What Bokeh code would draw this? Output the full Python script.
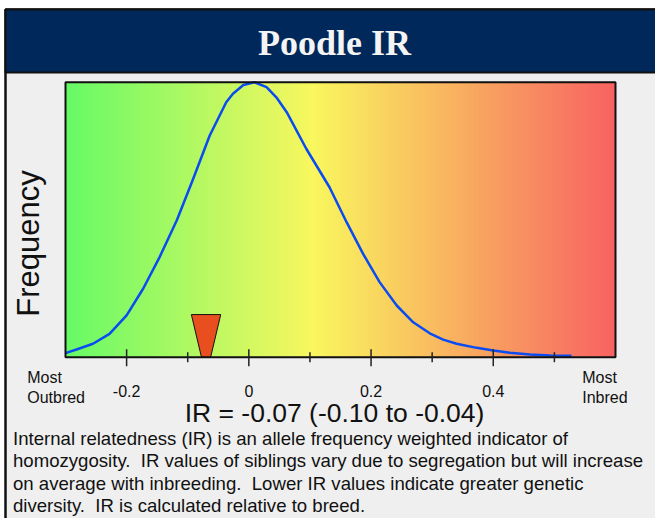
import numpy as np
from bokeh.plotting import figure
from bokeh.models import Range1d
from bokeh.core.properties import value
from bokeh.embed import file_html
from bokeh.resources import INLINE

# ---------------- data ----------------
title_text = "Poodle IR"
y_label = "Frequency"

# breed IR distribution (peak scaled to 1)
curve_x = [-0.300, -0.282, -0.255, -0.228, -0.200, -0.173, -0.146, -0.118, -0.091,
           -0.064, -0.037, -0.026, -0.009, 0.009, 0.029, 0.045, 0.062, 0.094,
           0.132, 0.160, 0.187, 0.214, 0.242, 0.269, 0.296, 0.318, 0.340, 0.373,
           0.400, 0.427, 0.460, 0.493, 0.528]
curve_y = [0.015, 0.028, 0.049, 0.085, 0.152, 0.249, 0.364, 0.497, 0.649,
           0.806, 0.927, 0.958, 0.990, 1.000, 0.982, 0.945, 0.891, 0.758,
           0.618, 0.491, 0.376, 0.273, 0.188, 0.127, 0.087, 0.064, 0.049, 0.034,
           0.024, 0.016, 0.010, 0.006, 0.005]

ir_value = -0.07
ir_low = -0.10
ir_high = -0.04

x_min, x_max = -0.3, 0.6
y_min, y_max = 0.0, 1.0
tick_values = [-0.2, 0.0, 0.2, 0.4]
tick_labels = ["-0.2", "0", "0.2", "0.4"]
minor_tick_values = [-0.1, 0.1, 0.3, 0.5]

left_end_label = ["Most", "Outbred"]
right_end_label = ["Most", "Inbred"]

NB2 = "\u00a0 "  # double space after a full stop (kept visible in SVG)
note_lines = [
    "Internal relatedness (IR) is an allele frequency weighted indicator of",
    "homozygosity." + NB2 + "IR values of siblings vary due to segregation but will increase",
    "on average with inbreeding." + NB2 + "Lower IR values indicate greater genetic",
    "diversity." + NB2 + "IR is calculated relative to breed.",
]

# ---------------- layout / styles ----------------
SANS = "Liberation Sans"
SERIF = "Liberation Serif"
NAVY = "#00285A"
PANEL = "#EFEFEF"
INK = "#111111"
W, H = 655, 518
PLOT_L, PLOT_R, PLOT_T, PLOT_B = 65.0, 615.0, 81.7, 356.7   # chart area in canvas pixels
BOX_L, BOX_T, HEAD_B = 5, 9, 72
BASE_SHIFT = 0.31   # text anchor sits this many em above the drawn baseline

# data ranges chosen so that [x_min, x_max] x [y_min, y_max] fills the chart area
kx = (x_max - x_min) / (PLOT_R - PLOT_L)
ky = (y_max - y_min) / (PLOT_B - PLOT_T)
x_range = Range1d(x_min - PLOT_L * kx, x_max + (W - PLOT_R) * kx)
y_range = Range1d(y_min - (H - PLOT_B) * ky, y_max + PLOT_T * ky)

p = figure(width=W, height=H, x_range=x_range, y_range=y_range,
           x_axis_location=None, y_axis_location=None, toolbar_location=None,
           output_backend="svg", min_border=0)
p.extra_x_ranges = {"px": Range1d(0, W)}
p.extra_y_ranges = {"px": Range1d(H, 0)}
p.outline_line_color = None
p.background_fill_color = "white"
p.border_fill_color = "white"
p.grid.visible = False

PX = dict(x_range_name="px", y_range_name="px")

# panel + header band
p.quad(left=[BOX_L], right=[W + 10], top=[BOX_T], bottom=[H + 10],
       fill_color=PANEL, line_color=INK, line_width=2.5, **PX)
p.quad(left=[BOX_L], right=[W + 10], top=[BOX_T], bottom=[HEAD_B],
       fill_color=NAVY, line_color=INK, line_width=2, **PX)

# gradient background (green -> yellow -> red)
n = 600
t = np.linspace(0, 1, n)
stop_t = [0.0, 0.45, 1.0]
stop_rgb = np.array([[102, 250, 102], [249, 247, 94], [248, 98, 98]], dtype=float)
img = np.zeros((1, n), dtype=np.uint32)
view = img.view(dtype=np.uint8).reshape((1, n, 4))
for c in range(3):
    view[0, :, c] = np.round(np.interp(t, stop_t, stop_rgb[:, c])).astype(np.uint8)
view[0, :, 3] = 255
p.image_rgba(image=[img], x=x_min, y=y_min, dw=x_max - x_min, dh=y_max - y_min)

# distribution curve
p.line(curve_x, curve_y, line_color="#0A4CF2", line_width=2.5, line_join="round")

# dog's IR marker (inverted trapezoid)
half_top, half_bottom, marker_h = 0.024, 0.0075, 0.155
p.patch([ir_value - half_top, ir_value + half_top, ir_value + half_bottom, ir_value - half_bottom],
        [marker_h, marker_h, y_min, y_min], fill_color="#E84E1E", line_color=INK, line_width=1)

# chart frame
p.quad(left=[x_min], right=[x_max], bottom=[y_min], top=[y_max],
       fill_color=None, line_color=INK, line_width=2)

# ticks (x in data units, y in pixels)
p.segment(x0=tick_values, x1=tick_values, y0=[PLOT_B - 8] * len(tick_values),
          y1=[PLOT_B + 9] * len(tick_values), line_color="#222222", line_width=1.5,
          y_range_name="px")
p.segment(x0=minor_tick_values, x1=minor_tick_values, y0=[PLOT_B - 5] * len(minor_tick_values),
          y1=[PLOT_B + 5] * len(minor_tick_values), line_color="#222222", line_width=1.5,
          y_range_name="px")
p.text(x=tick_values, y=[395.7 - BASE_SHIFT * 16] * len(tick_values), text=tick_labels,
       text_font=value(SANS), text_font_size="16px", text_color=INK,
       text_align="center", text_baseline="alphabetic", y_range_name="px")


def add_text(x, baseline, text, size, align="left", font=SANS, color=INK, style="normal"):
    p.text(x=[x], y=[baseline - BASE_SHIFT * size], text=[text], text_font=value(font),
           text_font_size=f"{size}px", text_font_style=style, text_color=color,
           text_align=align, text_baseline="alphabetic", **PX)


# header title
add_text(334, 53.3, title_text, 36, align="center", font=SERIF, color="#F4F4F4", style="bold")

# y label (rotated, reads bottom to top)
p.text(x=[37.3 - BASE_SHIFT * 31], y=[243], text=[y_label], text_font=value(SANS),
       text_font_size="31px", text_color=INK, text_align="center",
       text_baseline="alphabetic", angle=np.pi / 2, **PX)

# end labels
add_text(26.7, 382.3, left_end_label[0], 16)
add_text(26.7, 402.3, left_end_label[1], 16)
add_text(581.7, 382.3, right_end_label[0], 16)
add_text(581.7, 402.3, right_end_label[1], 16)

# IR summary
ir_text = f"IR = {ir_value:.2f} ({ir_low:.2f} to {ir_high:.2f})"
add_text(334, 421, ir_text, 26.5, align="center")

# explanatory note
for i, line in enumerate(note_lines):
    add_text(12.5, 443.3 + 22.6 * i, line, 18.6)

open("out.html", "w").write(file_html(p, INLINE))
